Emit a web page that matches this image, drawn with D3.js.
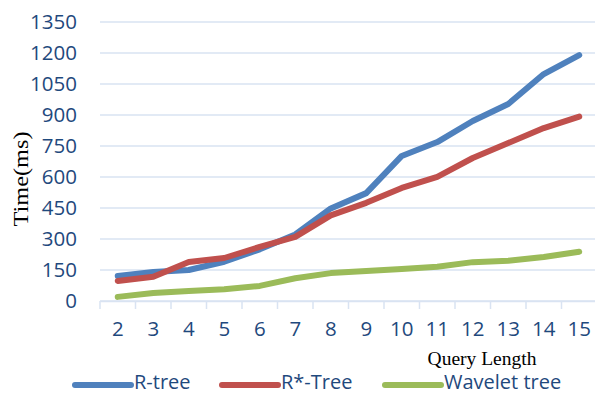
<!DOCTYPE html>
<html><head><meta charset="utf-8">
<script src="https://cdn.jsdelivr.net/npm/d3@7"></script>
<style>body{margin:0;background:#fff}svg{display:block}</style>
</head><body>
<svg id="c" width="595" height="394"></svg>
<script>
const categories = [2,3,4,5,6,7,8,9,10,11,12,13,14,15];
const rtree =   [121,140,150,190,250,322,448,522,702,769,871,953,1098,1190];
const rstar =   [97,117,189,208,262,310,414,475,547,601,692,764,837,892];
const wavelet = [20,39,48,57,73,110,135,145,155,166,188,195,213,238];
const yTicks = [0,150,300,450,600,750,900,1050,1200,1350];
const seriesNames = ["R-tree","R*-Tree","Wavelet tree"];
const colors = ["#4F81BD","#C0504D","#9BBB59"];

const svg = d3.select("#c");
const x = d3.scaleBand().domain(categories).range([100,597]);
const y = d3.scaleLinear().domain([0,1350]).range([301,22]);
const tickFont = "'Open Sans', Lato, sans-serif";
const txtColor = "#1F497D";

// gridlines
svg.append("g").selectAll("line").data(yTicks).join("line")
  .attr("x1",100).attr("x2",597)
  .attr("y1",d=>y(d)).attr("y2",d=>y(d))
  .attr("stroke","#D9E3F2").attr("stroke-width",1.5);

// y axis labels
const ya = svg.append("g").attr("transform","translate(100,0)")
  .call(d3.axisLeft(y).tickValues(yTicks).tickFormat(d3.format("d")).tickSize(0).tickPadding(23));
ya.select(".domain").remove();
ya.selectAll("text").attr("font-family",tickFont).attr("font-size",20.5).attr("fill",txtColor);

// x axis
const xa = svg.append("g").attr("transform","translate(0,301)")
  .call(d3.axisBottom(x).tickSize(0).tickPadding(20));
xa.select(".domain").attr("stroke","#D9E3F2").attr("stroke-width",1.5);
xa.selectAll("text").attr("font-family",tickFont).attr("font-size",20.5).attr("fill",txtColor);
// category boundary tick marks
svg.append("g").selectAll("line").data(categories).join("line")
  .attr("x1",d=>x(d)).attr("x2",d=>x(d))
  .attr("y1",301).attr("y2",309)
  .attr("stroke","#D9E3F2").attr("stroke-width",1.5);

// lines
const data = [rtree,rstar,wavelet];
const line = d3.line().x((d,i)=>x(categories[i])+x.bandwidth()/2).y(d=>y(d));
svg.append("g").selectAll("path").data(data).join("path")
  .attr("d",line).attr("fill","none")
  .attr("stroke",(d,i)=>colors[i]).attr("stroke-width",6)
  .attr("stroke-linecap","round").attr("stroke-linejoin","round");

// axis titles
svg.append("text").attr("transform","translate(28,179) rotate(-90)")
  .attr("text-anchor","middle").attr("font-family","'Liberation Serif','Times New Roman',serif")
  .attr("font-size",20).attr("textLength",95).attr("lengthAdjust","spacingAndGlyphs")
  .attr("fill","#000").text("Time(ms)");
svg.append("text").attr("x",482).attr("y",365)
  .attr("text-anchor","middle").attr("font-family","'Liberation Serif','Times New Roman',serif")
  .attr("font-size",19.5).attr("fill","#000").text("Query Length");

// legend
const legX = [75,222,385];
const leg = svg.append("g").selectAll("g").data(seriesNames).join("g");
leg.append("line").attr("x1",(d,i)=>legX[i]).attr("x2",(d,i)=>legX[i]+56)
  .attr("y1",385).attr("y2",385).attr("stroke",(d,i)=>colors[i])
  .attr("stroke-width",6).attr("stroke-linecap","round");
leg.append("text").attr("x",(d,i)=>legX[i]+59).attr("y",389)
  .attr("font-family",tickFont).attr("font-size",20).attr("fill",txtColor).text(d=>d);
</script>
</body></html>
